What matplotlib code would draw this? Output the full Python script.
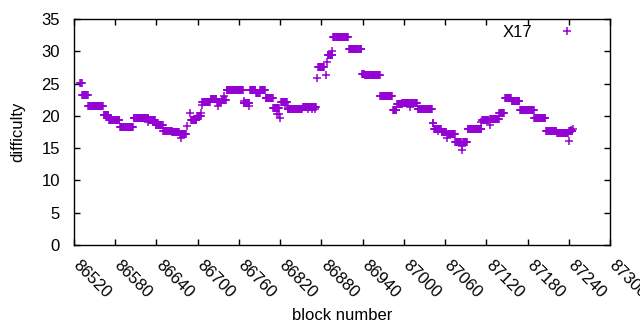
import numpy as np
import matplotlib
matplotlib.use("Agg")
import matplotlib.pyplot as plt
from matplotlib.transforms import ScaledTranslation

# runs of constant difficulty: first block, last block, difficulty
seg_start = [86529, 86532, 86541, 86563, 86571, 86587, 86607, 86629, 86639, 86650,
             86663, 86674, 86690, 86699, 86706, 86719, 86728, 86735, 86742, 86767,
             86776, 86785, 86791, 86799, 86810, 86821, 86831, 86842, 86853, 86859,
             86875, 86889, 86897, 86920, 86939, 86943, 86966, 86984, 86990, 86998,
             87010, 87020, 87042, 87044, 87055, 87064, 87075, 87086, 87093, 87114,
             87126, 87139, 87147, 87157, 87169, 87190, 87207, 87223, 87241]
seg_end = [86531, 86540, 86562, 86570, 86586, 86606, 86628, 86638, 86649, 86662,
           86673, 86683, 86698, 86705, 86718, 86727, 86734, 86741, 86766, 86775,
           86784, 86790, 86798, 86809, 86818, 86830, 86841, 86852, 86858, 86872,
           86884, 86896, 86919, 86938, 86942, 86965, 86983, 86989, 86997, 87008,
           87019, 87041, 87043, 87054, 87062, 87074, 87083, 87092, 87113, 87123,
           87138, 87146, 87156, 87168, 87189, 87206, 87222, 87239, 87245]
seg_value = [25.1, 23.2, 21.6, 20.1, 19.3, 18.3, 19.6, 19.4, 18.6, 17.7,
             17.5, 17.2, 19.4, 20.0, 22.2, 22.6, 22.2, 22.5, 23.95, 22.0,
             24.0, 23.5, 23.95, 22.7, 21.2, 22.2, 21.1, 21.0, 21.4, 21.4,
             27.5, 29.5, 32.15, 30.3, 26.5, 26.3, 23.0, 20.9, 21.8, 22.05,
             22.05, 21.0, 18.9, 18.0, 17.5, 17.2, 15.9, 16.0, 17.9, 19.35,
             19.45, 20.4, 22.7, 22.25, 20.9, 19.6, 17.7, 17.3, 17.6]

# single blocks off their run
out_block = [86627, 86675, 86684, 86689, 86705, 86706, 86729, 86738, 86768, 86774,
             86816, 86819, 86820, 86832, 86860, 86866, 86870, 86874, 86886, 86888,
             86895, 87009, 87050, 87063, 87084, 87085, 87113, 87125, 87240, 87243,
             87246]
out_value = [19.0, 16.6, 18.4, 20.5, 20.5, 21.7, 21.6, 23.0, 22.3, 21.6,
             20.3, 20.3, 19.7, 21.4, 21.0, 21.0, 21.0, 25.9, 26.3, 28.3,
             30.0, 21.4, 17.6, 16.6, 15.3, 14.7, 19.0, 18.6, 16.1, 17.8,
             17.9]

xticks = list(range(86520, 87301, 60))
yticks = list(range(0, 36, 5))

block, diff = [], []
for s, e, v in zip(seg_start, seg_end, seg_value):
    for b in range(s, e + 1):
        block.append(b); diff.append(v)
block += out_block; diff += out_value

plt.rcParams["font.family"] = ["Liberation Sans", "DejaVu Sans"]
fig = plt.figure(figsize=(6.4, 3.3), dpi=100)
ax = fig.add_axes([74 / 640, 85 / 330, 536 / 640, 226 / 330])

ax.plot(block, diff, "+", color="#9400d3", ms=5.5, mew=1.1, label="X17")

ax.set_xlim(86520, 87300)
ax.set_ylim(0, 35)
ax.set_xticks(xticks)
ax.set_yticks(yticks)
ax.set_xticklabels([str(t) for t in xticks], rotation=-45, ha="left", va="top",
                   rotation_mode="anchor")
ax.tick_params(direction="in", length=4, width=1, top=True, right=True,
               labelsize=12)
ax.tick_params(axis="y", pad=10)
ax.tick_params(axis="x", pad=9)
shift = ScaledTranslation(7 / 100, 0, fig.dpi_scale_trans)
for lbl in ax.get_xticklabels():
    lbl.set_transform(lbl.get_transform() + shift)
for sp in ax.spines.values():
    sp.set_linewidth(1)
ax.set_xlabel("block number", fontsize=12, labelpad=5)
ax.set_ylabel("difficulty", fontsize=12, labelpad=12)

ax.legend(loc="upper right", bbox_to_anchor=(1 - 8 / 536, 1.005), borderaxespad=0,
          frameon=False, markerfirst=False, fontsize=12, handlelength=3.4,
          handletextpad=0.4)

plt.savefig("out.png", dpi=100)
plt.close()
